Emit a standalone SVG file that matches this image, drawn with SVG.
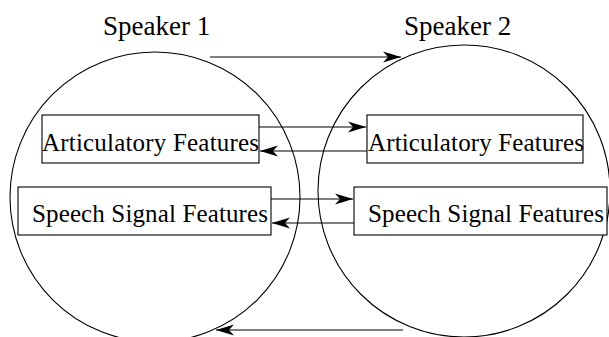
<svg xmlns="http://www.w3.org/2000/svg" width="609" height="337" viewBox="0 0 609 337">
  <style>
    .outline { fill: none; stroke: #000; stroke-width: 1.1; }
    .box { fill: #fff; stroke: #000; stroke-width: 1.1; }
    .label { font-family: "Liberation Serif", "Times New Roman", serif; fill: #000; }
    .feat { font-size: 25px; }
    .spk { font-size: 27px; }
    .conn { fill: none; stroke: #000; stroke-width: 1.1; marker-end: url(#arrow); }
  </style>
  <defs>
    <marker id="arrow" markerUnits="userSpaceOnUse" markerWidth="22" markerHeight="14" refX="19" refY="6" orient="auto">
      <path d="M19,6 L1,0.5 L6,6 L1,11.5 Z" fill="#000"/>
    </marker>
  </defs>
  <rect width="609" height="337" fill="#fff"/>

  <g id="speaker1">
    <ellipse class="outline" cx="155" cy="197" rx="145" ry="145"/>
    <text class="label spk" x="103" y="35">Speaker 1</text>
  </g>
  <g id="speaker2">
    <ellipse class="outline" cx="464" cy="191" rx="146" ry="146"/>
    <text class="label spk" x="404" y="35">Speaker 2</text>
  </g>

  <g id="art1">
    <rect class="box" x="42" y="115" width="217" height="48"/>
    <text class="label feat" x="42" y="151" textLength="217">Articulatory Features</text>
  </g>
  <g id="speech1">
    <rect class="box" x="18" y="187" width="253" height="48"/>
    <text class="label feat" x="32" y="222" textLength="236">Speech Signal Features</text>
  </g>
  <g id="art2">
    <rect class="box" x="367" y="115" width="216" height="48"/>
    <text class="label feat" x="368" y="151" textLength="216">Articulatory Features</text>
  </g>
  <g id="speech2">
    <rect class="box" x="354" y="187" width="253" height="48"/>
    <text class="label feat" x="368" y="222" textLength="236">Speech Signal Features</text>
  </g>

  <g id="connectors">
    <line class="conn" x1="210" y1="57" x2="401" y2="57"/>
    <line class="conn" x1="403" y1="330" x2="216" y2="330"/>
    <line class="conn" x1="259" y1="127" x2="366" y2="127"/>
    <line class="conn" x1="367" y1="151" x2="260" y2="151"/>
    <line class="conn" x1="271" y1="199" x2="353" y2="199"/>
    <line class="conn" x1="354" y1="223" x2="272" y2="223"/>
  </g>
</svg>
